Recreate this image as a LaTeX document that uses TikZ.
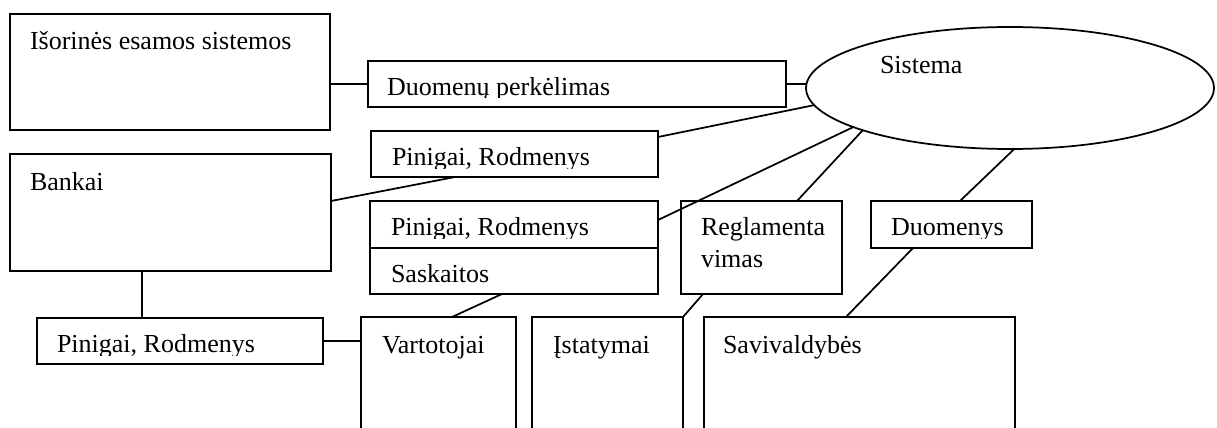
\documentclass[tikz,border=0pt]{standalone}
\usepackage{fontspec}
\setmainfont{Liberation Serif}
\usetikzlibrary{shapes.geometric,calc}
\newcommand\pu{0.75pt}
\begin{document}
\begin{tikzpicture}[x=0.75pt,y=-0.75pt, line width=1.3pt,
  box/.style 2 args={draw, rectangle, inner sep=0pt, outer sep=0pt,
    minimum width=#1*\pu, minimum height=#2*\pu},
  frame/.style 2 args={rectangle, inner sep=0pt, outer sep=0pt,
    minimum width=#1*\pu, minimum height=#2*\pu},
  lbl/.style={anchor=base west, inner sep=0pt, outer sep=0pt,
    font=\fontsize{19.5}{24}\selectfont},
  link/.style={draw}]
\useasboundingbox (0,0) rectangle (1217,428);

% boxes
\node[box={320}{116}] (iso) at (170,72) {};
\node[box={418}{46}] (dp) at (577,84) {};
\node[draw, ellipse, inner sep=0pt, outer sep=0pt,
      minimum width=408*\pu, minimum height=122*\pu] (sys) at (1010,88) {};
\node[box={287}{46}] (p1) at (514.5,154) {};
\node[box={321}{117}] (bank) at (170.5,212.5) {};
\node[box={288}{47}] (p2) at (514,224.5) {};
\node[box={288}{46}] (sask) at (514,271) {};
\node[box={161}{93}] (reg) at (761.5,247.5) {};
\node[box={161}{47}] (duo) at (951.5,224.5) {};
\node[box={286}{46}] (p3) at (180,341) {};

% boxes running off the lower edge (no bottom side)
\node[frame={155}{111}] (vart) at (438.5,372.5) {};
\node[frame={151}{111}] (ist) at (607.5,372.5) {};
\node[frame={311}{111}] (sav) at (859.5,372.5) {};
\foreach \b in {vart,ist,sav}
  \draw (\b.south west) -- (\b.north west) -- (\b.north east) -- (\b.south east);

% labels
\node[lbl] (tiso) at (30,50) {Išorinės esamos sistemos};
\node[lbl] (tsys) at (880,74) {Sistema};
\node[lbl] (tbank) at (30,190) {Bankai};
\node[lbl] (tsask) at (391,282) {Saskaitos};
\node[lbl, align=left] (treg) at (701,267) {Reglamenta\\vimas};
\node[lbl] (tvart) at (382,353) {Vartotojai};
\node[lbl] (tist) at (553,353) {Įstatymai};
\node[lbl] (tsav) at (723,353) {Savivaldybės};

% single-line labels cut off just under the baseline
\begin{scope}
  \clip (368,61) rectangle (786,98);
  \node[lbl] (tdp) at (387,95) {Duomenų perkėlimas};
\end{scope}
\begin{scope}
  \clip (371,131) rectangle (658,168);
  \node[lbl] (tp1) at (392,165) {Pinigai, Rodmenys};
\end{scope}
\begin{scope}
  \clip (370,201) rectangle (658,238);
  \node[lbl] (tp2) at (391,235) {Pinigai, Rodmenys};
\end{scope}
\begin{scope}
  \clip (871,201) rectangle (1032,238);
  \node[lbl] (tduo) at (891,235) {Duomenys};
\end{scope}
\begin{scope}
  \clip (37,318) rectangle (323,355);
  \node[lbl] (tp3) at (57,352) {Pinigai, Rodmenys};
\end{scope}

% connectors
\path[link] (iso.east |- dp.west) -- (dp.west);
\path[link] (dp.east) -- (dp.east -| sys.west);
\path[link] ($(p1.north east)+(0,6)$) -- (sys.185.9);
\path[link] ($(bank.east)+(0,-11.5)$) -- ($(p1.south west)+(84,0)$);
\path[link] ($(p2.north east)+(0,19)$) -- (sys.194.7);
\path[link] ($(sask.south west)+(132,0)$) -- ($(vart.north west)+(91,0)$);
\path[link] ($(reg.north west)+(116,0)$) -- (sys.196.7);
\path[link] ($(reg.south west)+(22,0)$) -- (ist.north east);
\path[link] ($(duo.north west)+(89,0)$) -- (sys.274.4);
\path[link] ($(duo.south west)+(42,0)$) -- ($(sav.north west)+(142,0)$);
\path[link] ($(bank.south west)+(132,0)$) -- ($(p3.north west)+(105,0)$);
\path[link] (p3.east) -- (p3.east -| vart.west);
\end{tikzpicture}
\end{document}
